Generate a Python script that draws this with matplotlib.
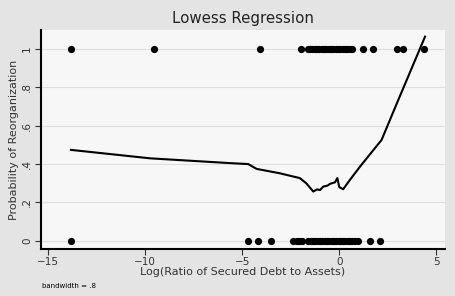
import matplotlib
matplotlib.use('Agg')
import matplotlib.pyplot as plt

# observed outcomes (reorganized = 1, not = 0)
x_reorg = [-13.83, -9.57, -4.07, -1.97, -1.62, -1.5, -1.38, -1.26, -1.14, -1.02,
           -0.9, -0.78, -0.66, -0.54, -0.42, -0.3, -0.18, -0.06, 0.06, 0.18,
           0.3, 0.42, 0.54, 0.64, 1.24, 1.75, 2.96, 3.3, 4.37]
x_liq = [-13.83, -4.69, -4.18, -3.54, -2.37, -2.2, -2.05, -1.94, -1.6, -1.48,
         -1.36, -1.24, -1.12, -1.0, -0.88, -0.76, -0.64, -0.52, -0.4, -0.28,
         -0.16, -0.04, 0.08, 0.2, 0.32, 0.44, 0.56, 0.68, 0.8, 0.98, 1.58, 2.1]

# lowess smooth
lx = [-13.83, -9.75, -5.62, -4.69, -4.26, -3.06, -2.03, -1.7, -1.34, -1.15,
      -0.99, -0.82, -0.6, -0.48, -0.22, -0.1, 0.0, 0.2, 0.55, 1.07, 2.18, 3.04, 4.42]
ly = [0.474, 0.43, 0.405, 0.40, 0.375, 0.352, 0.327, 0.30, 0.257, 0.268,
      0.265, 0.283, 0.288, 0.297, 0.305, 0.327, 0.28, 0.269, 0.318, 0.387, 0.526,
      0.734, 1.064]

fig = plt.figure(figsize=(4.56, 2.96), dpi=100, facecolor='#e4e4e4')
ax = fig.add_axes([0.089, 0.159, 0.887, 0.74], facecolor='#f7f7f7')

ax.scatter(x_reorg, [1] * len(x_reorg), s=27, color='black', lw=0, zorder=3)
ax.scatter(x_liq, [0] * len(x_liq), s=27, color='black', lw=0, zorder=3)
ax.plot(lx, ly, color='black', lw=1.5, zorder=4)

ax.set_xlim(-15.39, 5.45)
ax.set_ylim(-0.042, 1.099)
ax.set_xticks([-15, -10, -5, 0, 5])
ax.set_yticks([0, 0.2, 0.4, 0.6, 0.8, 1])
ax.set_yticklabels(['0', '.2', '.4', '.6', '.8', '1'], rotation=90, va='center')
ax.tick_params(labelsize=7.5, length=4, colors='#333333', pad=2)
ax.grid(axis='y', color='#dedede', lw=0.8)
ax.set_axisbelow(True)
for s in ['top', 'right']:
    ax.spines[s].set_visible(False)
for s in ['left', 'bottom']:
    ax.spines[s].set_linewidth(1.5)

ax.set_xlabel('Log(Ratio of Secured Debt to Assets)', fontsize=8, labelpad=0, color='#333333')
ax.set_ylabel('Probability of Reorganization', fontsize=8, labelpad=2, color='#333333')
fig.text(0.533, 0.937, 'Lowess Regression', ha='center', va='center', fontsize=10.8,
         color='#222222')
fig.text(0.092, 0.035, 'bandwidth = .8', fontsize=5, va='center')

fig.savefig('out.png', dpi=100, facecolor=fig.get_facecolor())
